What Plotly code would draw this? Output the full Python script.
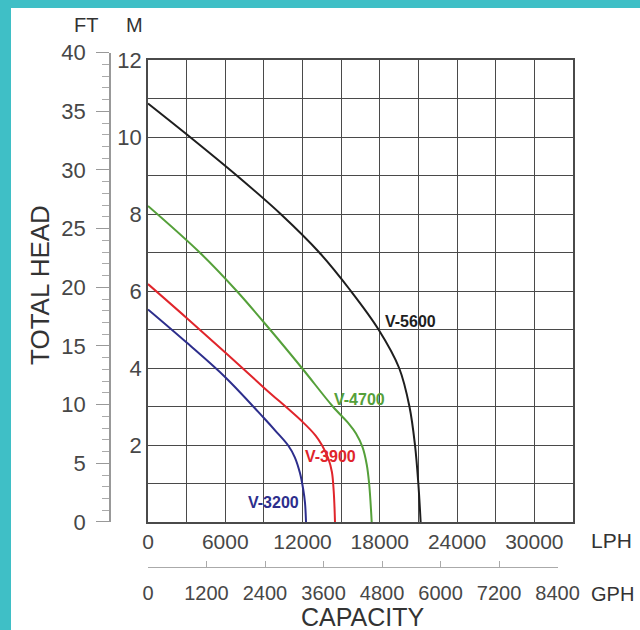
import plotly.graph_objects as go

# ---- data (capacity in LPH, head in metres) ----
lph_5600 = [0, 3260, 6890, 10300, 13300, 15750, 17900, 19500, 20300, 20730, 20990, 21170]
m_5600 = [10.87, 10.0, 9.0, 8.0, 7.0, 6.0, 5.0, 4.0, 3.0, 2.0, 1.0, 0.0]

lph_4700 = [0, 4020, 6890, 9470, 11950, 14350, 15600, 16150, 16650, 16980, 17170, 17370]
m_4700 = [8.21, 7.0, 6.0, 5.0, 4.0, 3.0, 2.55, 2.3, 1.95, 1.5, 1.0, 0.0]

lph_3900 = [0, 3000, 6000, 9000, 12000, 13000, 13500, 14000, 14280, 14420, 14480, 14520]
m_3900 = [6.18, 5.3, 4.4, 3.49, 2.6, 2.25, 2.0, 1.65, 1.3, 0.8, 0.4, 0.0]

lph_3200 = [0, 3000, 6000, 9000, 10000, 10900, 11400, 11800, 12050, 12190, 12270]
m_3200 = [5.52, 4.66, 3.76, 2.7, 2.33, 1.98, 1.68, 1.27, 0.85, 0.5, 0.0]

series_names = ["V-5600", "V-4700", "V-3900", "V-3200"]
series_colors = ["#1e1e1e", "#55a03a", "#e0252b", "#2d2e8c"]
label_lph = [20350, 16460, 14170, 9780]
label_m = [5.22, 3.19, 1.70, 0.51]

lph_ticks = [0, 6000, 12000, 18000, 24000, 30000]
gph_ticks = [0, 1200, 2400, 3600, 4800, 6000, 7200, 8400]
m_ticks = [2, 4, 6, 8, 10, 12]
ft_ticks = [0, 5, 10, 15, 20, 25, 30, 35, 40]

LPH_MAX = 33000
M_MAX = 12

# ---- layout geometry (paper fractions from pixel positions) ----
W, H = 640, 630
def px(x):
    return x / W
def py(y):
    return 1 - y / H

x0, x1 = px(148), px(573)
yb, yt = py(522), py(60)
ft_top = yb + (yt - yb) * (40 * 0.3048 / M_MAX)
gph_end = x0 + (x1 - x0) * (8400 * 3.78541 / LPH_MAX)

GRID = "#4a4a4a"
TXT = "#474747"
FONT = "Liberation Sans, Arial, sans-serif"

fig = go.Figure()
curves = [(lph_5600, m_5600), (lph_4700, m_4700), (lph_3900, m_3900), (lph_3200, m_3200)]
for (xs, ys), name, col in zip(curves, series_names, series_colors):
    fig.add_trace(go.Scatter(x=xs, y=ys, mode="lines", name=name,
                             line=dict(color=col, width=2, shape="spline", smoothing=1.0),
                             hoverinfo="skip", xaxis="x", yaxis="y"))

# invisible helper traces so the FT and GPH scales get drawn
fig.add_trace(go.Scatter(x=[0] * len(ft_ticks), y=ft_ticks, mode="markers", marker=dict(opacity=0),
                         hoverinfo="skip", xaxis="x3", yaxis="y2"))
fig.add_trace(go.Scatter(x=gph_ticks, y=[0] * len(gph_ticks), mode="markers", marker=dict(opacity=0),
                         hoverinfo="skip", xaxis="x2", yaxis="y3"))

annotations = []
for name, col, lx, ly in zip(series_names, series_colors, label_lph, label_m):
    annotations.append(dict(x=lx, y=ly, xref="x", yref="y", text="<b>%s</b>" % name, showarrow=False,
                            font=dict(family=FONT, size=16, color=col)))

def ann(text, x, y, size, angle=0):
    return dict(x=px(x), y=py(y), xref="paper", yref="paper", text=text, showarrow=False,
                textangle=angle, font=dict(family=FONT, size=size, color="#333"),
                xanchor="center", yanchor="middle")

annotations += [
    ann("FT", 86, 25, 20), ann("M", 134, 25, 20),
    ann("TOTAL HEAD", 40, 285, 26, -90),
    ann("LPH", 611, 540, 21), ann("GPH", 612, 594, 20),
    ann("CAPACITY", 362, 617, 25),
]

def tf(size):
    return dict(family=FONT, size=size, color=TXT)

fig.update_layout(
    width=W, height=H, margin=dict(l=0, r=0, t=0, b=0),
    paper_bgcolor="white", plot_bgcolor="white", showlegend=False,
    annotations=annotations,
    shapes=[
        dict(type="rect", xref="paper", yref="paper", x0=0, x1=px(11), y0=0, y1=1,
             fillcolor="#3fbfc6", line=dict(width=0), layer="above"),
        dict(type="rect", xref="paper", yref="paper", x0=0, x1=1, y0=py(8), y1=1,
             fillcolor="#3fbfc6", line=dict(width=0), layer="above"),
    ],
    xaxis=dict(domain=[x0, x1], range=[0, LPH_MAX], anchor="y", tickvals=lph_ticks, tickformat="d",
               ticks="", showgrid=True, gridcolor=GRID, gridwidth=1.3, zeroline=False,
               minor=dict(dtick=3000, tick0=0, showgrid=True, gridcolor=GRID, gridwidth=1.3),
               showline=True, mirror=True, linecolor=GRID, linewidth=1.5,
               tickfont=tf(21), ticklabelstandoff=0, automargin=False),
    yaxis=dict(domain=[yb, yt], range=[0, M_MAX], anchor="x", tickvals=m_ticks, ticks="",
               showgrid=True, gridcolor=GRID, gridwidth=1.3, zeroline=False,
               minor=dict(dtick=1, tick0=0, showgrid=True, gridcolor=GRID, gridwidth=1.3),
               showline=True, mirror=True, linecolor=GRID, linewidth=1.5,
               tickfont=tf(22), ticklabelstandoff=0, automargin=False),
    yaxis2=dict(domain=[yb, ft_top], range=[0, 40], anchor="free", position=px(110), side="left",
                tickvals=ft_ticks, ticks="outside", ticklen=13, tickwidth=1.2, tickcolor="#999",
                minor=dict(dtick=1, tick0=0, ticks="outside", ticklen=7, tickwidth=1, tickcolor="#aaa"),
                showgrid=False, zeroline=False, showline=True, linecolor="#999", linewidth=1.5,
                tickfont=tf(22), ticklabelstandoff=6, automargin=False),
    xaxis3=dict(domain=[0, 0.01], anchor="y2", visible=False, range=[0, 1]),
    xaxis2=dict(domain=[x0, gph_end], range=[0, 8400], anchor="free", position=py(567), side="bottom",
                tickvals=gph_ticks, tickformat="d", ticks="inside", ticklen=6, tickwidth=1, tickcolor="#aaa",
                showgrid=False, zeroline=False, showline=True, linecolor="#aaa", linewidth=1.2,
                tickfont=tf(20), ticklabelstandoff=8, automargin=False),
    yaxis3=dict(domain=[0, 0.02], anchor="x2", visible=False, range=[0, 1]),
)

fig.write_html("out.html", config={"displayModeBar": False},
               post_script="document.body.style.margin='0px';document.body.style.overflow='hidden';")
